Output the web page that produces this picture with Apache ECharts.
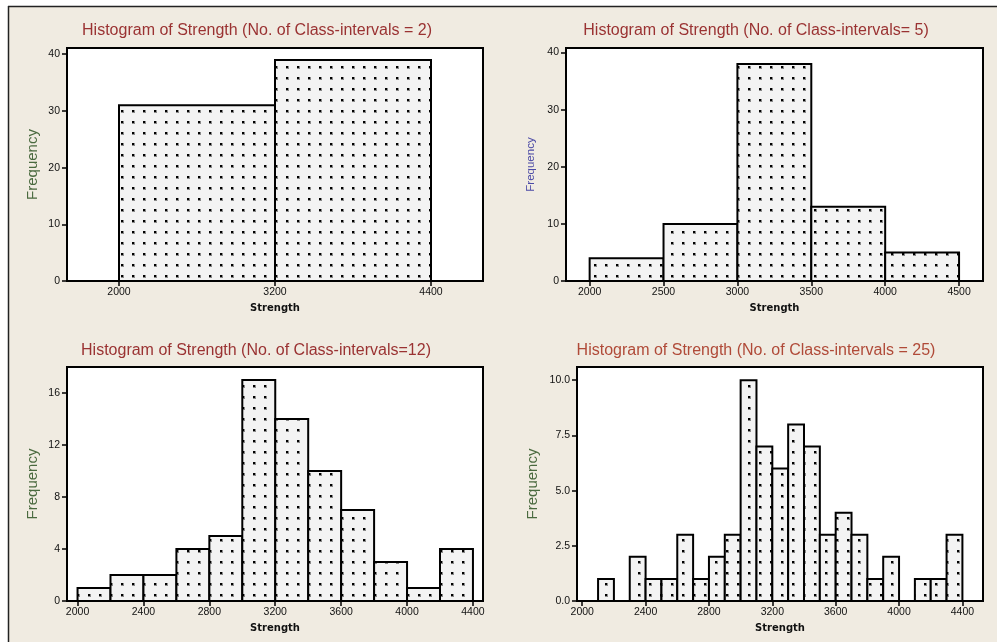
<!DOCTYPE html>
<html><head><meta charset="utf-8">
<script src="https://cdn.jsdelivr.net/npm/echarts@6/dist/echarts.min.js"></script>
<style>html,body{margin:0;padding:0;background:#fff}#c{width:997px;height:642px}</style>
</head><body><div id="c"></div>
<script>
// ---------- data ----------
const p1Edges = [2000, 3200, 4400];
const p1Counts = [31, 39];
const p2Edges = [2000, 2500, 3000, 3500, 4000, 4500];
const p2Counts = [4, 10, 38, 13, 5];
const p3Edges = [2000, 2200, 2400, 2600, 2800, 3000, 3200, 3400, 3600, 3800, 4000, 4200, 4400];
const p3Counts = [1, 2, 2, 4, 5, 17, 14, 10, 7, 3, 1, 4];
const p4Edges = [2000, 2100, 2200, 2300, 2400, 2500, 2600, 2700, 2800, 2900, 3000, 3100, 3200,
                 3300, 3400, 3500, 3600, 3700, 3800, 3900, 4000, 4100, 4200, 4300, 4400];
const p4Counts = [0, 1, 0, 2, 1, 1, 3, 1, 2, 3, 10, 7, 6, 8, 7, 3, 4, 3, 1, 2, 0, 1, 1, 3];

const p1XTicks = [2000, 3200, 4400];
const p1YTicks = [0, 10, 20, 30, 40];
const p2XTicks = [2000, 2500, 3000, 3500, 4000, 4500];
const p2YTicks = [0, 10, 20, 30, 40];
const p3XTicks = [2000, 2400, 2800, 3200, 3600, 4000, 4400];
const p3YTicks = [0, 4, 8, 12, 16];
const p4XTicks = [2000, 2400, 2800, 3200, 3600, 4000, 4400];
const p4YTicks = [0, 2.5, 5, 7.5, 10];

const titles = [
  'Histogram of Strength (No. of Class-intervals = 2)',
  'Histogram of Strength (No. of Class-intervals= 5)',
  'Histogram of Strength (No. of Class-intervals=12)',
  'Histogram of Strength (No. of Class-intervals = 25)'
];
const xName = 'Strength';
const yName = 'Frequency';

// ---------- dotted fill pattern ----------
const pc = document.createElement('canvas');
pc.width = 11; pc.height = 11;
const g = pc.getContext('2d');
g.fillStyle = '#f3f3f3'; g.fillRect(0, 0, 11, 11);
g.fillStyle = '#8a8a8a'; g.fillRect(0, 0, 3, 3);
g.fillStyle = '#000'; g.fillRect(0, 0, 2, 2);
const dotPattern = { image: pc, repeat: 'repeat' };

function toBins(edges, counts) {
  return counts.map((c, i) => [edges[i], edges[i + 1], c]);
}

const panels = [
  { edges: p1Edges, counts: p1Counts, xt: p1XTicks, yt: p1YTicks, dec: 0,
    grid: { left: 67, top: 48, width: 416, height: 233 }, xr: [1600, 4800], yr: [0, 41.1],
    tx: 257, ty: 23, tc: '#9a3232', nc: '#4a6a3f', ns: 15, ng: 27 },
  { edges: p2Edges, counts: p2Counts, xt: p2XTicks, yt: p2YTicks, dec: 0,
    grid: { left: 566, top: 48, width: 417, height: 233 }, xr: [1840, 4662], yr: [0, 40.8],
    tx: 756, ty: 23, tc: '#9a3232', nc: '#4b4aa6', ns: 11.5, ng: 29 },
  { edges: p3Edges, counts: p3Counts, xt: p3XTicks, yt: p3YTicks, dec: 0,
    grid: { left: 67, top: 367, width: 416, height: 234 }, xr: [1936, 4461], yr: [0, 18],
    tx: 256, ty: 343, tc: '#9a3232', nc: '#4a6a3f', ns: 15, ng: 27 },
  { edges: p4Edges, counts: p4Counts, xt: p4XTicks, yt: p4YTicks, dec: 1,
    grid: { left: 577, top: 367, width: 406, height: 234 }, xr: [1967, 4530], yr: [0, 10.6],
    tx: 756, ty: 343, tc: '#b04a38', nc: '#4a6a3f', ns: 15, ng: 37 }
];

const FONT = 'Liberation Sans, Arial, sans-serif';

function renderItem(params, api) {
  const c = api.value(2);
  if (!c) return null;
  const p0 = api.coord([api.value(0), c]);
  const p1 = api.coord([api.value(1), 0]);
  return {
    type: 'rect',
    shape: { x: p0[0], y: p0[1], width: p1[0] - p0[0], height: p1[1] - p0[1] },
    style: { fill: dotPattern, stroke: '#000', lineWidth: 2 }
  };
}

const option = {
  backgroundColor: '#f0ebe1',
  animation: false,
  graphic: [
    { type: 'rect', shape: { x: 0, y: 0, width: 997, height: 6 }, style: { fill: '#fff' }, silent: true },
    { type: 'rect', shape: { x: 0, y: 0, width: 8, height: 642 }, style: { fill: '#fff' }, silent: true },
    { type: 'line', shape: { x1: 8, y1: 6.5, x2: 997, y2: 6.5 }, style: { stroke: '#222', lineWidth: 1.5 }, silent: true },
    { type: 'line', shape: { x1: 8.5, y1: 6, x2: 8.5, y2: 642 }, style: { stroke: '#222', lineWidth: 1.5 }, silent: true }
  ],
  title: panels.map((p, i) => ({
    text: titles[i], left: p.tx, top: p.ty, textAlign: 'center', padding: 0,
    textStyle: { color: p.tc, fontSize: 16, fontWeight: 'normal', fontFamily: FONT }
  })),
  grid: panels.map(p => Object.assign({
    show: true, backgroundColor: '#fff', borderColor: '#000', borderWidth: 2, containLabel: false
  }, p.grid)),
  xAxis: panels.map((p, i) => ({
    type: 'value', gridIndex: i, min: p.xr[0], max: p.xr[1],
    splitLine: { show: false },
    axisLine: { show: true, onZero: false, lineStyle: { color: '#000', width: 2 } },
    axisTick: { show: true, length: 5, customValues: p.xt, lineStyle: { color: '#000', width: 1.5 } },
    axisLabel: { customValues: p.xt, fontSize: 10.5, color: '#111', margin: 6, fontFamily: FONT,
                 formatter: v => String(v) },
    name: xName, nameLocation: 'middle', nameGap: 22,
    nameTextStyle: { fontFamily: 'DejaVu Sans', fontWeight: 'bold', fontSize: 10, color: '#111' }
  })),
  yAxis: panels.map((p, i) => ({
    type: 'value', gridIndex: i, min: p.yr[0], max: p.yr[1],
    splitLine: { show: false },
    axisLine: { show: true, lineStyle: { color: '#000', width: 2 } },
    axisTick: { show: true, length: 5, customValues: p.yt, lineStyle: { color: '#000', width: 1.5 } },
    axisLabel: { customValues: p.yt, fontSize: 10.5, color: '#111', margin: 7, fontFamily: FONT,
                 formatter: v => Number(v).toFixed(p.dec) },
    name: yName, nameLocation: 'middle', nameGap: p.ng,
    nameTextStyle: { fontFamily: FONT, fontSize: p.ns, color: p.nc }
  })),
  series: panels.map((p, i) => ({
    type: 'custom', xAxisIndex: i, yAxisIndex: i,
    renderItem: renderItem, encode: { x: [0, 1], y: 2 },
    data: toBins(p.edges, p.counts)
  }))
};

const chart = echarts.init(document.getElementById('c'), null, { renderer: 'canvas' });
chart.setOption(option);
</script>
</body></html>
